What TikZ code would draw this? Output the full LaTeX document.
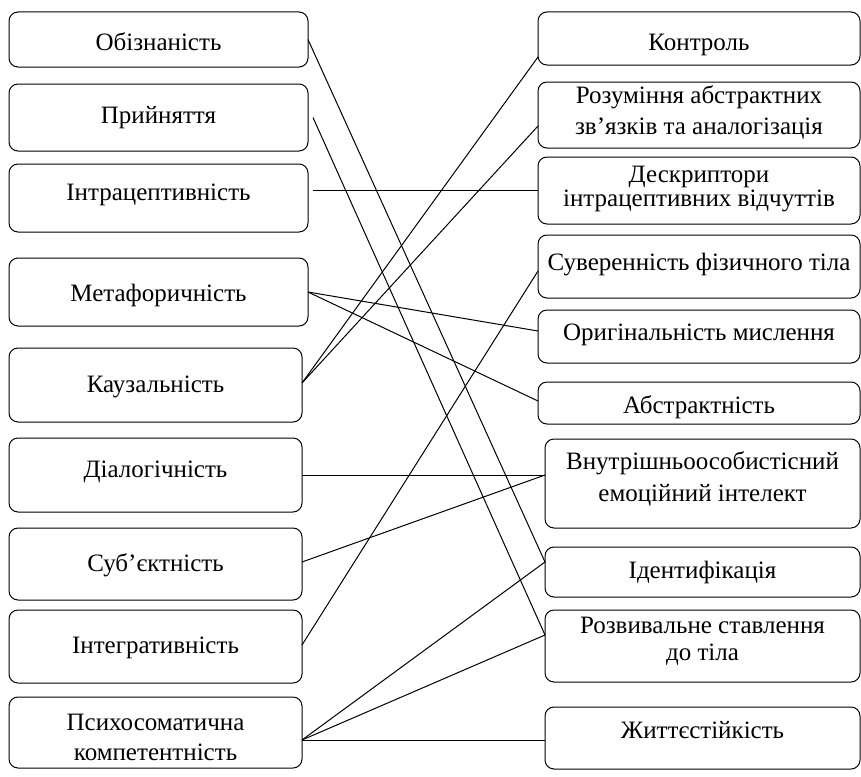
\documentclass[tikz,border=0pt]{standalone}
\usepackage{fontspec}
\setmainfont{Liberation Serif}
\usetikzlibrary{calc}
\newcommand\mkbox[5]{\node[box, minimum width={(#4-#2)*1pt}, minimum height={(#5-#3)*1pt}] (#1) at ({(#2+#4)/2},{(#3+#5)/2}) {};}
\begin{document}
\begin{tikzpicture}[x=1pt,y=-1pt,
  box/.style={draw, rounded corners=9pt, line width=1pt, inner sep=0pt, outer sep=0pt},
  lbl/.style={font=\fontsize{25}{29}\selectfont, align=center, inner sep=0pt},
  conn/.style={line width=1pt}]
\useasboundingbox (0,0) rectangle (861,776);
% left column
\mkbox{obiz}{9}{12}{308}{67}
\mkbox{pryi}{9}{84}{308}{151}
\mkbox{intra}{9}{164}{308}{232}
\mkbox{meta}{9}{258}{308}{326}
\mkbox{kauz}{9}{348}{302}{422}
\mkbox{dial}{9}{438}{302}{512}
\mkbox{subj}{9}{528}{302}{600}
\mkbox{integ}{9}{610}{302}{683}
\mkbox{psych}{9}{697}{302}{768}
% right column
\mkbox{kontr}{538}{12}{860}{65}
\mkbox{rozum}{538}{82}{860}{148}
\mkbox{deskr}{538}{157}{860}{224}
\mkbox{suver}{538}{235}{860}{298}
\mkbox{orig}{538}{310}{860}{363}
\mkbox{abstr}{538}{382}{860}{424}
\mkbox{vnutr}{545}{439}{860}{528}
\mkbox{ident}{545}{547}{860}{597}
\mkbox{rozv}{545}{610}{860}{682}
\mkbox{zhytt}{545}{707}{860}{769}
% labels
\node[lbl] (tobiz) at ($(obiz.center)+(0,2.5)$) {Обізнаність};
\node[lbl] (tpryi) at ($(pryi.center)+(0,0.5)$) {Прийняття};
\node[lbl] (tintra) at ($(intra.center)+(0,-3)$) {Інтрацептивність};
\node[lbl] (tmeta) at ($(meta.center)+(0,3)$) {Метафоричність};
\node[lbl] (tkauz) at ($(kauz.center)+(0,2)$) {Каузальність};
\node[lbl] (tdial) at ($(dial.center)+(0,-3)$) {Діалогічність};
\node[lbl] (tsubj) at ($(subj.center)+(0,1)$) {Суб’єктність};
\node[lbl] (tinteg) at ($(integ.center)+(0,1.5)$) {Інтегративність};
\node[lbl, font=\fontsize{25}{30}\selectfont] (tpsych) at ($(psych.center)+(0,4.5)$) {Психосоматична\\компетентність};
\node[lbl] (tkontr) at ($(kontr.center)+(0,6.5)$) {Контроль};
\node[lbl, font=\fontsize{25}{31}\selectfont] (trozum) at ($(rozum.center)+(0,-3)$) {Розуміння абстрактних\\зв’язків та аналогізація};
\node[lbl, font=\fontsize{25}{24}\selectfont] (tdeskr) at ($(deskr.center)+(0,-1.5)$) {Дескриптори\\інтрацептивних відчуттів};
\node[lbl] (tsuver) at ($(suver.center)+(0,-1.5)$) {Суверенність фізичного тіла};
\node[lbl] (torig) at ($(orig.center)+(0,-1.5)$) {Оригінальність мислення};
\node[lbl] (tabstr) at ($(abstr.center)+(0,4)$) {Абстрактність};
\node[lbl, font=\fontsize{25}{32}\selectfont] (tvnutr) at ($(vnutr.center)+(0,-4.5)$) {Внутрішньоособистісний\\емоційний інтелект};
\node[lbl] (tident) at ($(ident.center)+(0,0)$) {Ідентифікація};
\node[lbl, font=\fontsize{25}{27}\selectfont] (trozv) at ($(rozv.center)+(0,-4.5)$) {Розвивальне ставлення\\до тіла};
\node[lbl] (tzhytt) at ($(zhytt.center)+(0,-8)$) {Життєстійкість};
% connectors
\draw[conn] (obiz.east) -- ($(ident.west)+(0,-10)$);
\draw[conn] ($(pryi.east)+(5,0)$) -- ($(rozv.west)+(0,-11)$);
\draw[conn] ($(intra.east)+(5,-8)$) -- ($(deskr.west)+(0,-0.5)$);
\draw[conn] (meta.east) -- ($(orig.west)+(0,-5.5)$);
\draw[conn] (meta.east) -- ($(abstr.west)+(0,-2)$);
\draw[conn] ($(kauz.east)+(0,-2)$) -- ($(kontr.west)+(0,18.5)$);
\draw[conn] ($(kauz.east)+(0,-2)$) -- ($(rozum.west)+(0,11)$);
\draw[conn] (dial.east) -- ($(vnutr.west)+(0,-8.5)$);
\draw[conn] ($(subj.east)+(0,-2)$) -- ($(vnutr.west)+(0,-8.5)$);
\draw[conn] ($(integ.east)+(0,-1.5)$) -- ($(suver.west)+(0,4.5)$);
\draw[conn] ($(psych.east)+(0,7.5)$) -- ($(ident.west)+(0,-10)$);
\draw[conn] ($(psych.east)+(0,7.5)$) -- ($(rozv.west)+(0,-11)$);
\draw[conn] ($(psych.east)+(0,7.5)$) -- ($(zhytt.west)+(0,2)$);
\end{tikzpicture}
\end{document}
